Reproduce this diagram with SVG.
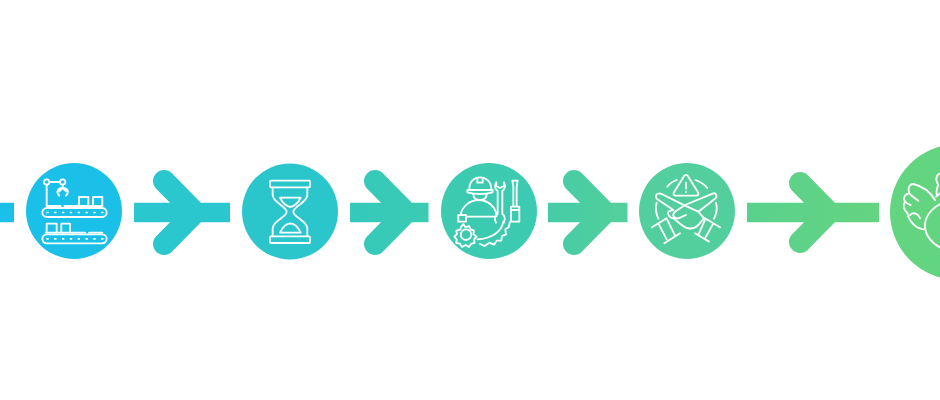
<svg xmlns="http://www.w3.org/2000/svg" width="940" height="400" viewBox="0 0 940 400">
<style>
.c1{fill:#1ac0e8}.c2{fill:#2bc6cc}.c3{fill:#3ccbb1}.c4{fill:#52cf9d}.c5{fill:#63d480}
.stem{fill:none;stroke:url(#flow);stroke-width:19.500}
.head{fill:none;stroke:url(#flow);stroke-width:22;stroke-linecap:round;stroke-linejoin:miter}
.ic{fill:none;stroke:#fff;stroke-width:5.500;stroke-linecap:round;stroke-linejoin:round}
.dots{fill:none;stroke:#fff;stroke-width:5;stroke-dasharray:7 16.500}
</style>
<defs>
<linearGradient id="flow" gradientUnits="userSpaceOnUse" x1="0" y1="0" x2="940" y2="0">
<stop offset="0" stop-color="#1ac0e8"/>
<stop offset="0.02" stop-color="#1ac0e8"/>
<stop offset="0.14" stop-color="#2ac7ce"/>
<stop offset="0.245" stop-color="#2ac7ce"/>
<stop offset="0.37" stop-color="#35c9bc"/>
<stop offset="0.46" stop-color="#3ccbb1"/>
<stop offset="0.58" stop-color="#45cca8"/>
<stop offset="0.67" stop-color="#54d09a"/>
<stop offset="0.79" stop-color="#58d18e"/>
<stop offset="0.94" stop-color="#66d480"/>
</linearGradient>
</defs>
<g id="connectors">
<path class="stem" d="M0 212.500H14"/>
<path class="stem" d="M134 212.500H230"/><path class="head" d="M164 181L195 212.500L164 244"/>
<path class="stem" d="M350 212.500H428.500"/><path class="head" d="M375 181L406 212.500L375 244"/>
<path class="stem" d="M548 212.500H627.500"/><path class="head" d="M574 181L605 212.500L574 244"/>
<path class="stem" d="M747 212.500H879"/><path class="head" d="M800 183L829 212.500L800 242"/>
</g>
<g id="node-conveyor">
<circle class="c1" cx="74" cy="211" r="48"/>
<g transform="translate(25 162) scale(.3333)">
<rect class="ic" x="52" y="138" width="193" height="27" rx="13.500"/>
<path class="dots" d="M64 151.500H240"/>
<rect class="ic" x="52" y="217" width="193" height="27" rx="13.500"/>
<path class="dots" d="M64 230.500H240"/>
<path class="ic" d="M65 69V132H107M118 132H232M162 132V105H190V132M204 132V105H232V132"/>
<circle class="ic" cx="65" cy="60" r="8"/><circle class="ic" cx="113" cy="60" r="8"/>
<path class="ic" d="M73 60H105M113 68V78M103 101C92 90 98 78 113 78C128 78 134 90 123 101M113 78L103 88M113 78L123 88"/>
<path class="ic" d="M65 212V185H95V212M109 212V185H135V212M62 212H180M192 212H232"/>
</g>
</g>
<g id="node-hourglass">
<circle class="c2" cx="290" cy="211.500" r="48"/>
<g transform="translate(230 150) scale(.3333)">
<rect class="ic" x="120" y="92" width="120" height="20" rx="3"/>
<rect class="ic" x="120" y="259" width="120" height="20" rx="3"/>
<path class="ic" d="M128 112V135C128 158 170 168 170 185C170 202 128 212 128 235V259M232 112V135C232 158 190 168 190 185C190 202 232 212 232 235V259"/>
<path class="ic" d="M150 143H212C205 160 190 170 181 171C172 170 157 160 150 143Z"/>
<path class="ic" d="M150 248H212C205 232 192 221 181 220C170 221 157 232 150 248Z"/>
</g>
</g>
<g id="node-worker">
<circle class="c3" cx="489" cy="211" r="48"/>
<g transform="translate(430 150) scale(.3333)">
<path class="ic" d="M118 118C118 95 132 82 150 82C168 82 184 95 184 118M112 120H188V127C165 133 135 133 112 127ZM142 84V98H158V84"/>
<path class="ic" d="M130 132C130 145 140 150 150 150C160 150 170 145 170 132"/>
<path class="ic" d="M92 195C95 170 120 150 146 150C175 150 198 172 200 198M108 200H196"/>
<path class="ic" d="M85 195H108V215H85Z"/>
<path class="ic" d="M199 97C192 108 196 120 203 123V192C195 196 192 208 198 218M222 97C228 108 224 120 217 123V192C225 196 226 208 222 218M199 97V108L210 114L222 108V97"/>
<path class="ic" d="M250 170V110L247 92H263L260 110V170M243 170H268V215H243ZM243 180H268"/>
<path class="ic" d="M100 222L106 232L117 228L122 238L132 242L130 253L140 260L132 268L134 279L123 282L117 291L107 285L96 291L90 281L79 279L80 268L73 260L81 252L79 242L90 239L95 228Z"/>
<circle class="ic" cx="108" cy="254" r="16"/>
<path class="ic" d="M220 215C215 245 185 266 142 268M240 215L236 232L226 238L228 254L216 258L214 272L200 272L192 284L178 278L164 288L150 282"/>
</g>
</g>
<g id="node-warning">
<circle class="c4" cx="687" cy="211" r="48"/>
<g transform="translate(630 150) scale(.3333)">
<path class="ic" d="M161 80C165 73 171 73 175 80L204 127C208 134 204 137 198 137H138C132 137 128 134 132 127Z"/>
<path class="ic" d="M168 98V116M168 125V126"/>
<path class="ic" d="M112 110C118 102 128 95 140 90M196 90C210 95 222 102 232 114M80 158C76 172 78 190 85 206M258 158C262 172 260 190 252 206"/>
<path class="ic" d="M88 130C80 130 74 138 80 146L130 180L115 185C112 195 120 205 130 205L155 225C170 238 190 240 205 225L222 205L205 185L165 167L95 132Z"/>
<path class="ic" d="M250 130C258 128 264 140 255 146L205 185M250 130L165 165L135 185C125 195 130 205 145 205L168 195"/>
<path class="ic" d="M66 232L110 205M103 280L150 250M85 220L110 268M112 210L135 257"/>
<path class="ic" d="M270 232L225 205M237 275L195 250M250 220L225 265M225 210L205 255"/>
</g>
</g>
<g id="node-angel">
<circle class="c5" cx="958" cy="212" r="68"/>
<g transform="translate(890 160) scale(.3333)">
<path class="ic" d="M135 120C120 95 95 78 70 72C58 72 52 85 58 100C45 102 38 112 45 125C38 135 40 150 52 158C55 180 75 205 100 208"/>
<path class="ic" d="M58 100C65 108 75 115 85 122M45 125C50 130 55 133 62 135M60 165C70 155 85 160 90 175"/>
<path class="ic" d="M150 132C120 150 104 175 105 200C106 225 125 250 150 262"/>
<path class="ic" d="M150 40C138 45 135 60 145 75C140 85 138 98 142 108M150 100L138 110"/>
</g>
</g>
</svg>
